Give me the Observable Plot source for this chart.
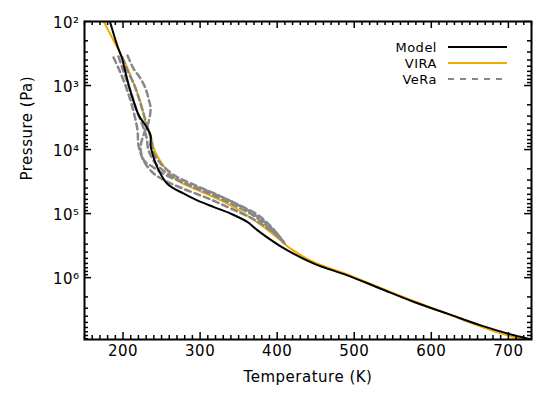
<!DOCTYPE html>
<html><head><meta charset="utf-8">
<script src="https://cdn.jsdelivr.net/npm/d3@7"></script>
<script src="https://cdn.jsdelivr.net/npm/@observablehq/plot@0.6"></script>
<style>body{margin:0;background:#fff;} #chart svg{display:block;}</style>
</head><body><div id="chart"></div>
<script>
// ---- data ----
const seriesNames = ["Model", "VIRA", "VeRa"];
const xTicks = [200, 300, 400, 500, 600, 700];
const yTicks = [1e2, 1e3, 1e4, 1e5, 1e6];

const modelT = [183, 192.5, 198.9, 201, 207.5, 214, 220.5, 229.2, 235.7, 235.7, 237, 244.4, 257.4, 278.9, 296.3, 317.9, 339.6, 361.2, 374.6, 404.5, 447.7, 491.1, 534.3, 577.6, 620.9, 664.2, 707.4, 730];
const modelP = [100, 237, 382, 486, 1000, 1820, 2930, 4200, 6010, 8610, 10300, 18800, 34100, 48900, 62200, 79100, 1.0e5, 1.35e5, 1.83e5, 3.24e5, 6.05e5, 9.2e5, 1.49e6, 2.4e6, 3.65e6, 5.56e6, 7.96e6, 9.25e6];

const viraT = [175, 194.5, 203.2, 214, 222.7, 229.2, 235.7, 240, 246.5, 255.2, 270.4, 287.6, 317.9, 339.6, 361.2, 382.8, 404.5, 417.5, 447.7, 491.1, 534.3, 577.6, 620.9, 664.2, 707.4, 730];
const viraP = [100, 284, 457, 938, 1820, 3730, 6010, 9700, 13900, 19900, 30300, 38500, 55200, 74500, 1.07e5, 1.63e5, 2.62e5, 3.53e5, 5.75e5, 8.91e5, 1.45e6, 2.34e6, 3.67e6, 5.82e6, 8.51e6, 9.4e6];

const vera1T = [187.7, 195.4, 203.2, 209.7, 214.9, 218.8, 220.1, 226.6, 238.3, 253.9, 277.2, 307.1, 339.6, 372, 398, 408.4];
const vera1P = [365, 582, 1000, 1710, 2930, 5020, 8610, 14800, 22800, 30300, 40500, 55800, 83000, 1.28e5, 2.11e5, 2.81e5];
const vera2T = [205.8, 213.6, 222.7, 229.2, 233.7, 235.7, 233.7, 227.3, 222.7, 227.3, 239.6, 256.5, 281.1, 313.6, 346.1, 375.9, 394.1, 404.5];
const vera2P = [340, 542, 776, 1110, 1710, 2200, 3510, 5600, 9270, 14800, 19000, 25400, 33700, 46700, 69300, 1.07e5, 1.70e5, 2.44e5];
const vera3T = [194.1, 199.3, 205.8, 212.3, 218.8, 225.3, 230.5, 233.1, 242.2, 259.1, 283.7, 313.6, 347.4, 374.6, 394.1, 407.1];
const vera3P = [352, 542, 895, 1530, 2630, 4200, 6470, 10300, 16400, 24400, 35000, 50100, 77100, 1.19e5, 1.90e5, 2.62e5];
const vera4T = [199.3, 205.8, 214.9, 221.4, 226.6, 231.8, 237, 239.6, 248.7, 266.9, 294.1, 326.6, 357.7, 382.4, 400.6, 409.7];
const vera4P = [365, 582, 1000, 1710, 2730, 4510, 7190, 11100, 16400, 25400, 36300, 53800, 83000, 1.32e5, 2.11e5, 2.92e5];

// ---- build tables ----
const rows = (T, P, id) => T.map((t, i) => ({T: t, P: P[i], id}));
const model = rows(modelT, modelP, "Model");
const vira = rows(viraT, viraP, "VIRA");
const vera = [
  ...rows(vera1T, vera1P, "VeRa1"), ...rows(vera2T, vera2P, "VeRa2"),
  ...rows(vera3T, vera3P, "VeRa3"), ...rows(vera4T, vera4P, "VeRa4")
];

const W = 560, H = 400, mL = 84, mT = 21, mR = 29, mB = 61;
const plotW = W - mL - mR, plotH = H - mT - mB;
const xDomain = [150, 730], yDomain = [100, 9.25e6];
const xMinor = d3.range(150, 731, 10).filter(v => !xTicks.includes(v));
const yMinor = [];
for (let e = 2; e <= 6; e++) for (let k = 2; k <= 9; k++) { const v = k * 10 ** e; if (v <= yDomain[1]) yMinor.push(v); }

const sup = {"0":"⁰","1":"¹","2":"²","3":"³","4":"⁴","5":"⁵","6":"⁶","7":"⁷","8":"⁸","9":"⁹"};
const fmtPow = d => "10" + String(Math.round(Math.log10(d))).split("").map(c => sup[c]).join("");

const colors = {Model: "#000000", VIRA: "#f2ac00", VeRa: "#888888"};
const font = "DejaVu Sans, sans-serif";

const chart = Plot.plot({
  width: W, height: H,
  marginLeft: mL, marginTop: mT, marginRight: mR, marginBottom: mB,
  style: {fontFamily: font, fontSize: "15px", color: "#000", background: "#fff", letterSpacing: "0.5px"},
  x: {domain: xDomain, axis: null},
  y: {type: "log", domain: yDomain, reverse: true, axis: null},
  marks: [
    Plot.line(vira, {x: "T", y: "P", stroke: colors.VIRA, strokeWidth: 2, curve: "catmull-rom", clip: true}),
    Plot.line(vera, {x: "T", y: "P", z: "id", stroke: colors.VeRa, strokeWidth: 2.5, strokeDasharray: "6,4", curve: "catmull-rom", clip: true}),
    Plot.line(model, {x: "T", y: "P", stroke: colors.Model, strokeWidth: 2, curve: "catmull-rom", clip: true}),
    // inward ticks on all four sides
    Plot.ruleX(xTicks, {x: d => d, insetTop: plotH - 7, strokeWidth: 1.5}),
    Plot.ruleX(xTicks, {x: d => d, insetBottom: plotH - 7, strokeWidth: 1.5}),
    Plot.ruleX(xMinor, {x: d => d, insetTop: plotH - 4, strokeWidth: 1.5}),
    Plot.ruleX(xMinor, {x: d => d, insetBottom: plotH - 4, strokeWidth: 1.5}),
    Plot.ruleY(yTicks, {y: d => d, insetRight: plotW - 7, strokeWidth: 1.5}),
    Plot.ruleY(yTicks, {y: d => d, insetLeft: plotW - 7, strokeWidth: 1.5}),
    Plot.ruleY(yMinor, {y: d => d, insetRight: plotW - 4, strokeWidth: 1.5}),
    Plot.ruleY(yMinor, {y: d => d, insetLeft: plotW - 4, strokeWidth: 1.5}),
    Plot.frame({stroke: "#000", strokeWidth: 2}),
    Plot.axisX(xTicks, {tickSize: 0, tickPadding: 6, fontSize: 15, label: null}),
    Plot.axisY(yTicks, {tickSize: 0, tickPadding: 5, fontSize: 15, dy: 2, tickFormat: fmtPow, label: null}),
    Plot.text(["Temperature (K)"], {text: d => d, frameAnchor: "bottom", dy: 42, fontSize: 15}),
    Plot.text(["Pressure (Pa)"], {text: d => d, frameAnchor: "left", rotate: -90, dx: -57, fontSize: 15})
  ]
});
document.getElementById("chart").append(chart);

// legend (inside the frame, top right)
const svg = d3.select(chart);
const lg = svg.append("g").attr("font-family", font).attr("font-size", 13).attr("letter-spacing", "0.5px");
const legendRows = [
  {name: seriesNames[0], color: colors.Model, dash: null, w: 2},
  {name: seriesNames[1], color: colors.VIRA, dash: null, w: 2},
  {name: seriesNames[2], color: colors.VeRa, dash: "6,6", w: 2}
];
legendRows.forEach((r, i) => {
  const y = 47 + i * 16;
  lg.append("text").attr("x", 437).attr("y", y).attr("dy", "0.35em").attr("text-anchor", "end").text(r.name);
  lg.append("line").attr("x1", 448).attr("x2", 507).attr("y1", y).attr("y2", y)
    .attr("stroke", r.color).attr("stroke-width", r.w).attr("stroke-dasharray", r.dash);
});
</script>
</body></html>
